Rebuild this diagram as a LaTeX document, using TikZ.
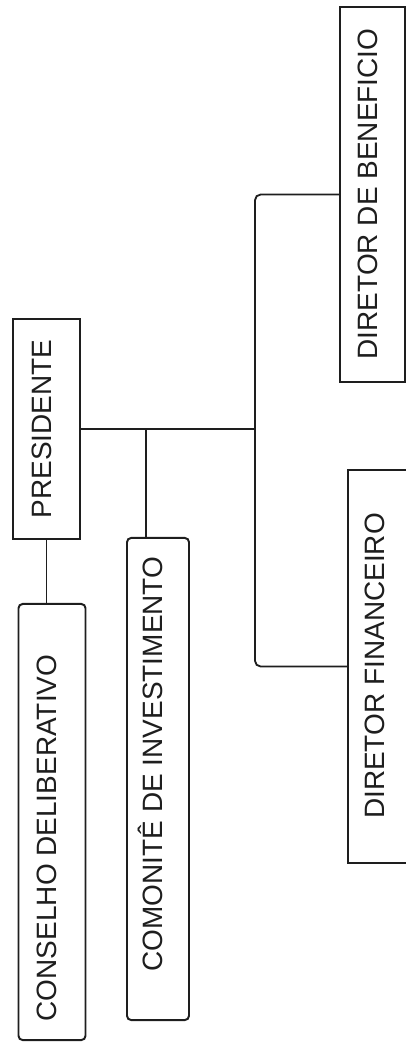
\documentclass[tikz,border=0pt]{standalone}
\usepackage{fontspec}
\setmainfont{Liberation Sans}
\usepackage{tikz}
\usetikzlibrary{positioning, calc}
\definecolor{inkline}{RGB}{30,30,30}
\tikzset{
  orgbox/.style={rectangle, draw=inkline, line width=1.4pt, inner sep=0pt},
  roundbox/.style={orgbox, rounded corners=3pt},
  orglabel/.style={rotate=90, inner sep=0pt, text=inkline, text height=0.72em, text depth=0pt,
    font=\fontsize{19.9}{24}\selectfont},
  link/.style={draw=inkline, line width=1.3pt}
}
\begin{document}
\begin{tikzpicture}[x=0.025cm, y=-0.025cm]
  \clip (0,0) rectangle (406,1042);
  % boxes
  \node[orgbox, minimum width=1.675cm, minimum height=5.5cm] (pres) at (46.5,429) {};
  \node[roundbox, minimum width=1.675cm, minimum height=10.9cm] (cons) at (52,822) {};
  \node[roundbox, minimum width=1.55cm, minimum height=12.05cm] (comi) at (158,779) {};
  \node[orgbox, minimum width=1.6cm, minimum height=9.825cm] (fin) at (380,666.5) {};
  \node[orgbox, minimum width=1.625cm, minimum height=9.375cm] (ben) at (372.5,194.5) {};
  % texts
  \node[orglabel] (pres-t) at (pres.center) {PRESIDENTE};
  \node[orglabel] (cons-t) at (51,838) {CONSELHO DELIBERATIVO};
  \node[orglabel] (comi-t) at (157.5,764) {COMONITÊ DE INVESTIMENTO};
  \node[orglabel] (fin-t) at (379,666) {DIRETOR FINANCEIRO};
  \node[orglabel] (ben-t) at (372,194) {DIRETOR DE BENEFICIO};
  % links
  \coordinate (hub) at (255,429);
  \coordinate (tap) at (146,429);
  \draw[link] (pres.east) -- (hub);
  \draw[link] (tap) -- (tap |- comi.north);
  \draw[link] (pres.south) -- (pres.south |- cons.north);
  \draw[link, rounded corners=4pt] (ben.west) -| (hub) |- (fin.west);
\end{tikzpicture}
\end{document}
